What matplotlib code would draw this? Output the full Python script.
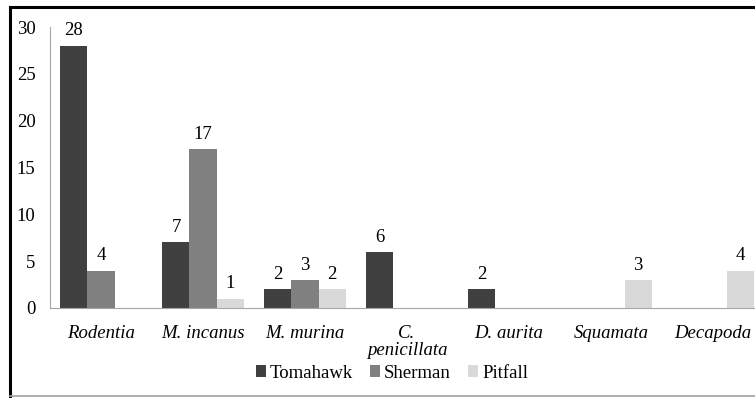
import numpy as np
import matplotlib
matplotlib.use("Agg")
import matplotlib.pyplot as plt
from matplotlib.lines import Line2D

plt.rcParams['font.family'] = 'Liberation Serif'

# datos del grafico
categorias = ['Rodentia', 'M. incanus', 'M. murina', 'C.\npenicillata',
              'D. aurita', 'Squamata', 'Decapoda']
series = ['Tomahawk', 'Sherman', 'Pitfall']
tomahawk = [28, 7, 2, 6, 2, 0, 0]
sherman = [4, 17, 3, 0, 0, 0, 0]
pitfall = [0, 1, 2, 0, 0, 3, 4]
colores = ['#404040', '#808080', '#d9d9d9']

fs = 13.5
fig = plt.figure(figsize=(7.55, 3.98), dpi=100)
W, H = 755, 398
# el area de trazado sale por la derecha (imagen recortada)
ax = fig.add_axes([50 / W, (H - 308) / H, 714 / W, 281 / H])

x = np.arange(len(categorias))
ancho = 0.265
valores = [tomahawk, sherman, pitfall]
for i, (nombre, vals, c) in enumerate(zip(series, valores, colores)):
    pos = x + (i - 1) * ancho
    barras = ax.bar(pos, vals, ancho, color=c, label=nombre)
    etiquetas = [str(v) if v > 0 else '' for v in vals]
    ax.bar_label(barras, labels=etiquetas, padding=4.5, fontsize=fs)

ax.set_xlim(-0.5, len(categorias) - 0.5)
ax.set_ylim(0, 30)
ax.set_yticks(range(0, 31, 5))
ax.set_xticks(x)
ax.set_xticklabels(categorias, fontstyle='italic', fontsize=fs,
                   linespacing=1.05)
ax.tick_params(axis='both', length=0, labelsize=fs)
ax.tick_params(axis='y', pad=10.5)
ax.tick_params(axis='x', pad=12)
for lado in ['top', 'right']:
    ax.spines[lado].set_visible(False)
for lado in ['left', 'bottom']:
    ax.spines[lado].set_color('#a6a6a6')
    ax.spines[lado].set_linewidth(0.8)

fig.legend(loc='center', bbox_to_anchor=(392 / W, (H - 373) / H), ncol=3,
           frameon=False, fontsize=fs, handlelength=0.55, handleheight=0.55,
           handletextpad=0.2, columnspacing=0.9, borderaxespad=0)

# marco de la figura
fig.add_artist(Line2D([10 / W, 1], [1 - 7 / H, 1 - 7 / H], color='black',
                      lw=2.2, transform=fig.transFigure))
fig.add_artist(Line2D([10 / W, 10 / W], [1 - 7 / H, 1 - 396 / H],
                      color='black', lw=2.2, transform=fig.transFigure))
fig.add_artist(Line2D([10 / W, 1], [1 - 396 / H, 1 - 396 / H],
                      color='#a0a0a0', lw=1.2, transform=fig.transFigure))

fig.savefig('out.png', dpi=100)
